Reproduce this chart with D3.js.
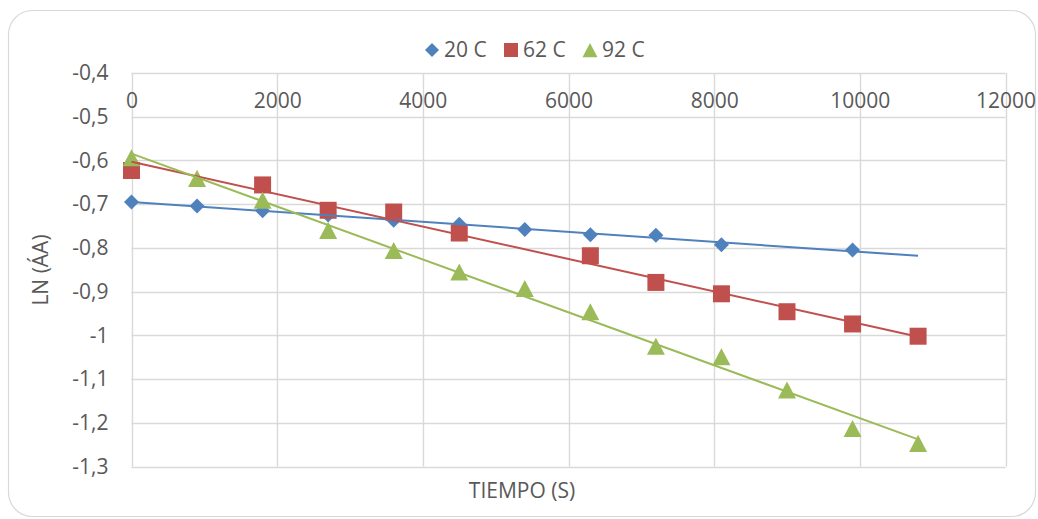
<!DOCTYPE html>
<html>
<head>
<meta charset="utf-8">
<script src="https://cdn.jsdelivr.net/npm/d3@7"></script>
<style>
  html, body { margin: 0; padding: 0; background: #fff; }
  svg text { font-family: "Open Sans", sans-serif; fill: #595959; }
</style>
</head>
<body>
<svg id="chart" width="1038" height="519"></svg>
<script>
// Tiempo (s) and LN(ÁA) readings per temperature; null = no measurement drawn
const times = [0, 900, 1800, 2700, 3600, 4500, 5400, 6300, 7200, 8100, 9000, 9900, 10800];
const ln20 = [-0.695, -0.704, -0.715, -0.725, -0.737, -0.746, -0.758, -0.770, -0.771, -0.793, null, -0.805, null];
const ln62 = [-0.623, null, -0.656, -0.714, -0.718, -0.766, null, -0.818, -0.879, -0.905, -0.946, -0.974, -1.002];
const ln92 = [-0.594, -0.641, -0.691, -0.760, -0.806, -0.855, -0.893, -0.946, -1.025, -1.049, -1.125, -1.213, -1.247];

const seriesNames = ['20 C', '62 C', '92 C'];
const seriesColors = ['#4f81bd', '#c0504d', '#9bbb59'];

const xTicks = [0, 2000, 4000, 6000, 8000, 10000, 12000];
const yTicks = [-0.4, -0.5, -0.6, -0.7, -0.8, -0.9, -1, -1.1, -1.2, -1.3];

// marker shapes, "size" here is the marker width in px
const diamond = {
  draw(ctx, w) {
    const r = w / 2;
    ctx.moveTo(0, -r); ctx.lineTo(r, 0); ctx.lineTo(0, r); ctx.lineTo(-r, 0); ctx.closePath();
  },
};
const square = {
  draw(ctx, w) {
    const r = w / 2;
    ctx.rect(-r, -r, w, w);
  },
};
const triangle = {
  draw(ctx, w) {
    const r = w / 2;
    const h = w * 0.95;
    ctx.moveTo(0, -h / 2); ctx.lineTo(r, h / 2); ctx.lineTo(-r, h / 2); ctx.closePath();
  },
};
const seriesShapes = [diamond, square, triangle];
const markerSize = [15, 17, 18];
const legendSize = [14, 14, 15];

const series = [ln20, ln62, ln92].map((vals, i) => ({
  name: seriesNames[i],
  color: seriesColors[i],
  shape: seriesShapes[i],
  points: times.map((t, j) => ({ t, v: vals[j] })).filter(p => p.v !== null),
}));

const svg = d3.select('#chart');
const plot = { left: 131.5, right: 1005.5, top: 73, bottom: 466.5 };

const x = d3.scaleLinear().domain([0, 12000]).range([plot.left, plot.right]);
const y = d3.scaleLinear().domain([-1.3, -0.4]).range([plot.bottom, plot.top]);
const fmt = v => String(+v.toFixed(1)).replace('.', ',');

// chart frame
svg.append('rect')
  .attr('x', 8.5).attr('y', 10.5)
  .attr('width', 1027).attr('height', 506)
  .attr('rx', 24).attr('ry', 24)
  .attr('fill', '#fff').attr('stroke', '#d9d9d9').attr('stroke-width', 1.2);

// gridlines
const grid = svg.append('g');
grid.selectAll('line.h').data(yTicks).join('line')
  .attr('x1', plot.left).attr('x2', plot.right)
  .attr('y1', d => Math.round(y(d)) + 0.5).attr('y2', d => Math.round(y(d)) + 0.5)
  .attr('stroke', '#d9d9d9').attr('stroke-width', 1.4);
grid.selectAll('line.v').data(xTicks).join('line')
  .attr('y1', plot.top).attr('y2', plot.bottom)
  .attr('x1', d => Math.round(x(d)) + 0.5).attr('x2', d => Math.round(x(d)) + 0.5)
  .attr('stroke', '#d9d9d9').attr('stroke-width', 1.4);

// y axis labels
const yAxis = svg.append('g')
  .attr('transform', `translate(${plot.left},0)`)
  .call(d3.axisLeft(y).tickValues(yTicks).tickFormat(fmt).tickSize(0).tickPadding(23));
yAxis.select('.domain').remove();
yAxis.selectAll('text').attr('font-size', 21).attr('fill', '#595959').attr('font-family', '"Open Sans", sans-serif');

// x axis labels sit just under the top line (axis crosses at -0.4)
const xAxis = svg.append('g')
  .attr('transform', `translate(0,${plot.top})`)
  .call(d3.axisBottom(x).tickValues(xTicks).tickFormat(d3.format('d')).tickSize(0).tickPadding(20));
xAxis.select('.domain').remove();
xAxis.selectAll('text').attr('font-size', 21).attr('fill', '#595959').attr('font-family', '"Open Sans", sans-serif');

// markers
const marks = svg.append('g');
series.forEach((s, i) => {
  const sym = d3.symbol().type(s.shape).size(markerSize[i]);
  marks.append('g').selectAll('path').data(s.points).join('path')
    .attr('d', sym)
    .attr('transform', d => `translate(${x(d.t)},${y(d.v)})`)
    .attr('fill', s.color);
});

// linear trendlines over the time range
const tMax = d3.max(times);
const trend = svg.append('g');
series.forEach(s => {
  const mt = d3.mean(s.points, p => p.t);
  const mv = d3.mean(s.points, p => p.v);
  const slope = d3.sum(s.points, p => (p.t - mt) * (p.v - mv)) / d3.sum(s.points, p => (p.t - mt) ** 2);
  const icpt = mv - slope * mt;
  trend.append('line')
    .attr('x1', x(0)).attr('y1', y(icpt))
    .attr('x2', x(tMax)).attr('y2', y(icpt + slope * tMax))
    .attr('stroke', s.color).attr('stroke-width', 2);
});

// axis titles
svg.append('text')
  .attr('x', 522).attr('y', 498)
  .attr('text-anchor', 'middle').attr('font-size', 21)
  .text('TIEMPO (S)');
svg.append('text')
  .attr('transform', 'translate(48,270) rotate(-90)')
  .attr('text-anchor', 'middle').attr('font-size', 21)
  .text('LN (ÁA)');

// legend
const legendX = [432, 511, 590];
const legend = svg.append('g');
series.forEach((s, i) => {
  legend.append('path')
    .attr('d', d3.symbol().type(s.shape).size(legendSize[i]))
    .attr('transform', `translate(${legendX[i]},50)`)
    .attr('fill', s.color);
  legend.append('text')
    .attr('x', legendX[i] + 12).attr('y', 57)
    .attr('font-size', 21)
    .text(s.name);
});
</script>
</body>
</html>
